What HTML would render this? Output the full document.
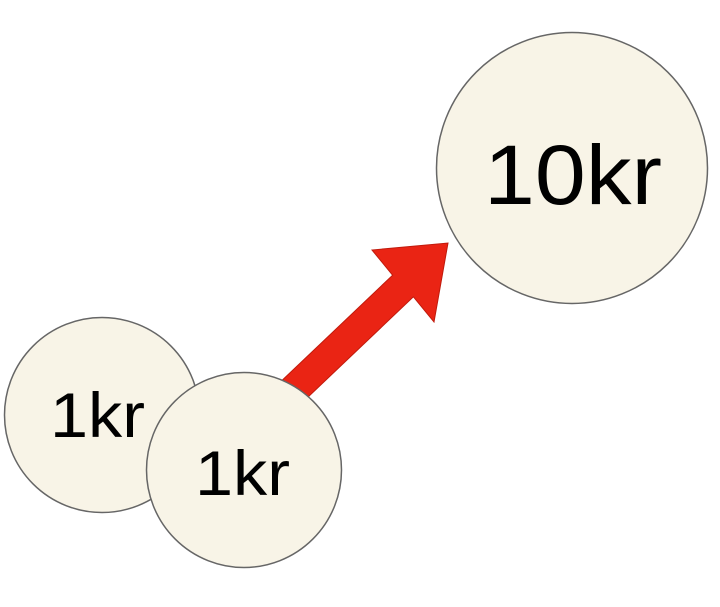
<!DOCTYPE html>
<html><head><meta charset="utf-8"><style>
html,body{margin:0;padding:0;background:#fff;width:720px;height:607px;overflow:hidden}
</style></head><body>
<svg width="720" height="607" viewBox="0 0 720 607" xmlns="http://www.w3.org/2000/svg">
<circle cx="572" cy="168" r="135.5" fill="#f8f4e7" stroke="#666" stroke-width="1.5"/>
<text x="484" y="204" font-family="Liberation Sans, sans-serif" font-size="84" textLength="178" lengthAdjust="spacingAndGlyphs" fill="#000">10kr</text>
<polygon points="269.6,392.2 392.6,275.2 372,250 448,243 434,322 413.4,296.8 290.4,413.8" fill="#ea2414" stroke="#c01a0c" stroke-width="1"/>
<circle cx="102" cy="415" r="97.5" fill="#f8f4e7" stroke="#666" stroke-width="1.5"/>
<text x="50" y="437" font-family="Liberation Sans, sans-serif" font-size="63" textLength="95" lengthAdjust="spacingAndGlyphs" fill="#000">1kr</text>
<circle cx="244" cy="470" r="97.5" fill="#f8f4e7" stroke="#666" stroke-width="1.5"/>
<text x="195" y="495" font-family="Liberation Sans, sans-serif" font-size="63" textLength="95" lengthAdjust="spacingAndGlyphs" fill="#000">1kr</text>
</svg>
</body></html>
